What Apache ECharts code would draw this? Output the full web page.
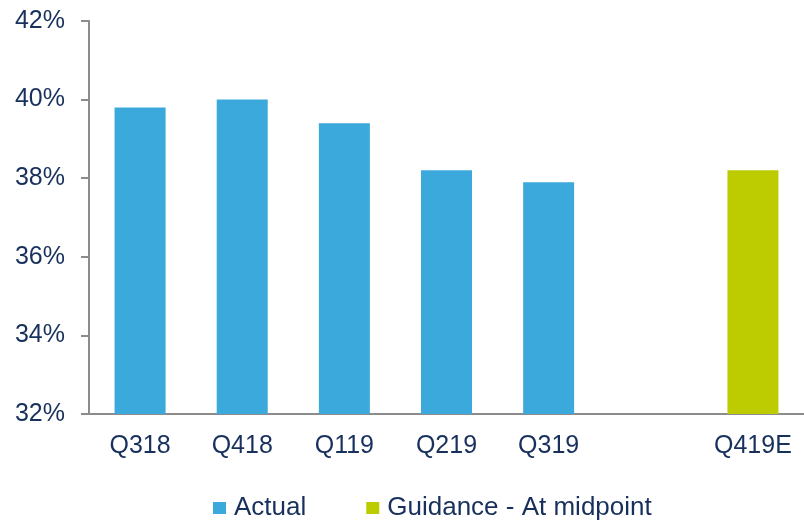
<!DOCTYPE html>
<html lang="en">

<head>
  <meta charset="UTF-8" />
  <title>Quarterly margin</title>
  <script src="https://cdn.jsdelivr.net/npm/echarts@6/dist/echarts.min.js"></script>
  <style>
    html, body {
      margin: 0;
      padding: 0;
      background: #fff;
    }

    #chart {
      width: 804px;
      height: 522px;
    }
  </style>
</head>

<body>
  <div id="chart"></div>

  <script>
    // data
    const quarters = ['Q318', 'Q418', 'Q119', 'Q219', 'Q319', '', 'Q419E'];
    const actual = [39.8, 40.0, 39.4, 38.2, 37.9, '-', '-'];
    const guidance = ['-', '-', '-', '-', '-', '-', 38.2];

    const textColor = '#17305c';
    const axisColor = '#8c8c8c';

    const chart = echarts.init(document.getElementById('chart'));

    const option = {
      animation: false,
      grid: {
        left: 89,
        top: 21,
        right: -6,
        bottom: 108
      },
      legend: {
        left: 208,
        top: 490,
        itemWidth: 13,
        itemHeight: 12,
        itemGap: 60,
        icon: 'rect',
        textStyle: {
          color: textColor,
          fontSize: 26,
          fontFamily: 'Liberation Sans, Arial, sans-serif',
          padding: [0, 0, 0, 3]
        },
        data: ['Actual', 'Guidance - At midpoint']
      },
      xAxis: {
        type: 'category',
        data: quarters,
        axisLine: {
          lineStyle: { color: axisColor, width: 2 }
        },
        axisTick: {
          length: 8,
          lineStyle: { color: axisColor, width: 2 }
        },
        axisLabel: {
          color: textColor,
          fontSize: 25,
          fontFamily: 'Liberation Sans, Arial, sans-serif',
          margin: 20,
          interval: 0
        }
      },
      yAxis: {
        type: 'value',
        min: 32,
        max: 42,
        interval: 2,
        axisLine: {
          show: true,
          lineStyle: { color: axisColor, width: 2 }
        },
        axisTick: {
          show: true,
          length: 8,
          lineStyle: { color: axisColor, width: 2 }
        },
        splitLine: { show: false },
        axisLabel: {
          color: textColor,
          fontSize: 25,
          fontFamily: 'Liberation Sans, Arial, sans-serif',
          margin: 24,
          formatter: '{value}%'
        }
      },
      series: [
        {
          name: 'Actual',
          type: 'bar',
          data: actual,
          barWidth: 51,
          barGap: '-100%',
          itemStyle: { color: '#3ba9dc' }
        },
        {
          name: 'Guidance - At midpoint',
          type: 'bar',
          data: guidance,
          barWidth: 51,
          itemStyle: { color: '#bdcc00' }
        }
      ]
    };

    chart.setOption(option);
  </script>
</body>

</html>
